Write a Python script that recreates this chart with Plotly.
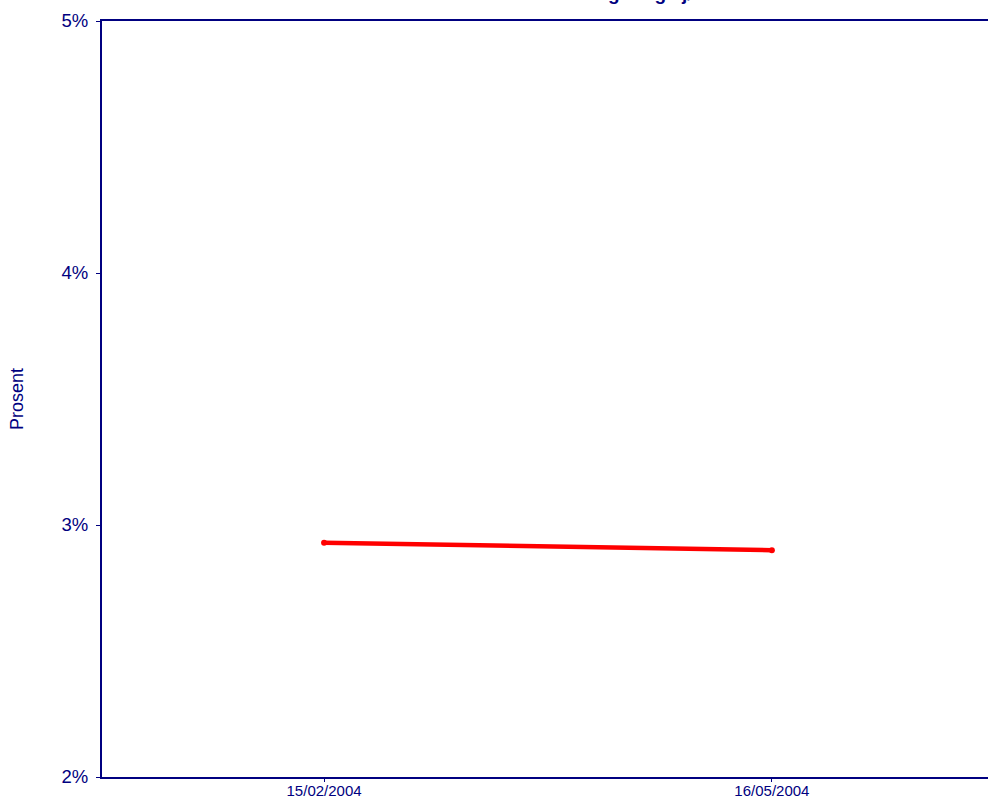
import plotly.graph_objects as go

dates = ["2004-02-15", "2004-05-16"]
tick_labels = ["15/02/2004", "16/05/2004"]
values = [2.93, 2.90]
y_ticks = [2, 3, 4, 5]
y_tick_labels = ["2%", "3%", "4%", "5%"]
title_text = "Rente - Utlån til husholdninger og sjøfart"

navy = "#000080"

fig = go.Figure()
fig.add_trace(go.Scatter(
    x=dates, y=values, mode="lines+markers",
    line=dict(color="#ff0000", width=4.5),
    marker=dict(color="#ff0000", size=6),
    showlegend=False,
))

fig.update_layout(
    width=988, height=799,
    margin=dict(l=102, r=0, t=21, b=22, autoexpand=False),
    paper_bgcolor="white", plot_bgcolor="white",
    font=dict(family="Arial, Liberation Sans, sans-serif", color=navy),
    xaxis=dict(
        type="date",
        automargin=False,
        range=["2003-12-31 21:00", "2004-06-28 22:00"],
        tickvals=dates, ticktext=tick_labels,
        tickfont=dict(size=15, color=navy),
        showgrid=False, zeroline=False,
        showline=True, linecolor=navy, linewidth=2, mirror=True,
        ticks="outside", ticklen=3, tickcolor=navy, tickwidth=1,
        ticklabelstandoff=-4,
    ),
    yaxis=dict(
        automargin=False,
        range=[2, 5],
        tickvals=y_ticks, ticktext=y_tick_labels,
        tickfont=dict(size=18.5, color=navy),
        showgrid=False, zeroline=False,
        showline=True, linecolor=navy, linewidth=2, mirror=False,
        ticks="outside", ticklen=4, tickcolor=navy, tickwidth=1,
        ticklabelstandoff=4,
        title=dict(text="Prosent", font=dict(size=18, color=navy), standoff=33),
    ),
    annotations=[dict(
        text="<b>" + title_text + "</b>",
        xref="paper", yref="paper", x=0.5, y=1,
        xanchor="center", yanchor="bottom", yshift=15,
        showarrow=False, font=dict(size=19, color=navy),
    )],
)

# Remove the default page margin so the figure fills the window exactly.
page_fix = (
    "document.documentElement.style.margin='0';"
    "document.documentElement.style.overflow='hidden';"
    "document.body.style.margin='0';"
    "document.body.style.overflow='hidden';"
)

fig.write_html("out.html", post_script=page_fix, config={"displayModeBar": False})
